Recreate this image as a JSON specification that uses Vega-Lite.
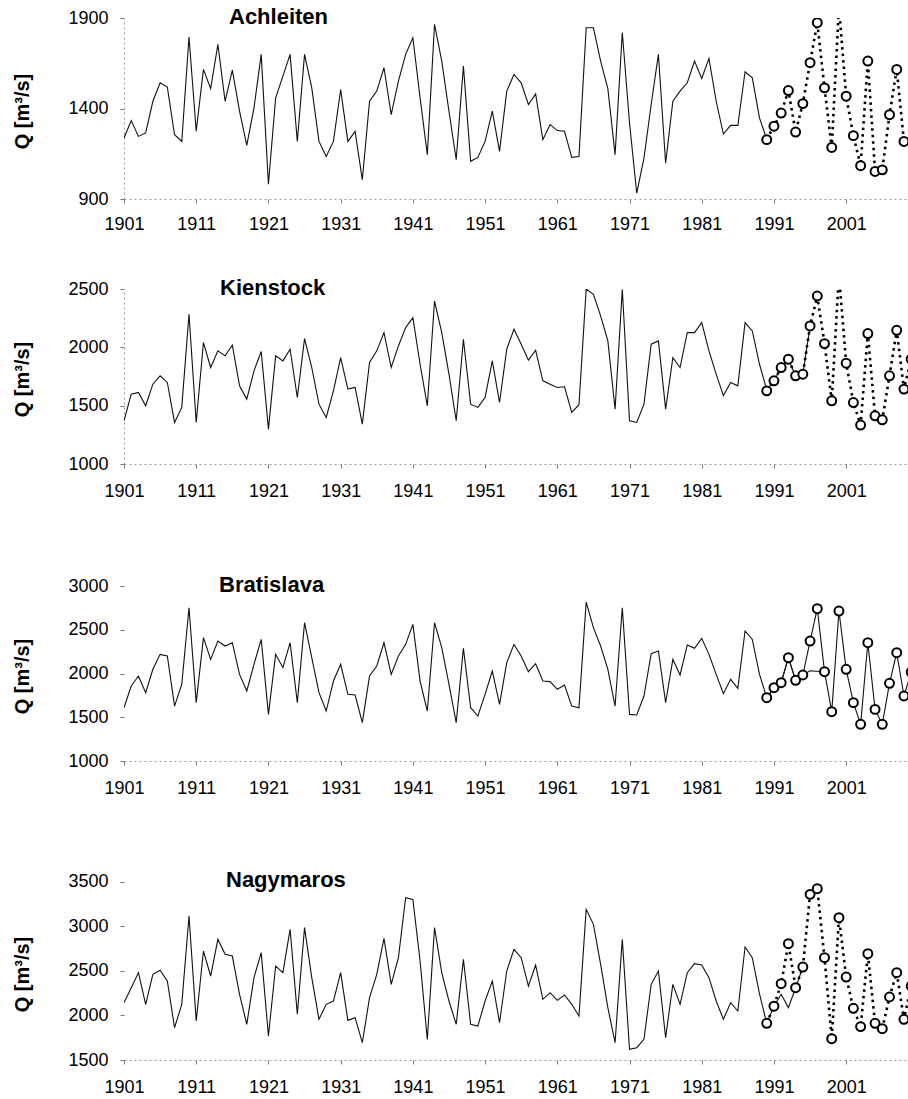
{
"$schema": "https://vega.github.io/schema/vega-lite/v6.json",
"background": "white",
"padding": {"left": 11, "top": 6, "right": 0, "bottom": 0},
"spacing": 90,
"bounds": "flush",
"config": {
  "view": {"stroke": null},
  "font": "Liberation Sans",
  "axis": {"labelFont": "Liberation Sans", "labelFontSize": 18, "labelColor": "#000", "grid": false, "domainColor": "#9a9a9a", "domainDash": [2, 3], "tickColor": "#777", "tickSize": 4, "titleFont": "Liberation Sans", "titleFontSize": 20, "titleFontWeight": "bold", "titleColor": "#000", "labelFlush": false, "format": "d"},
  "title": {"font": "Liberation Sans", "fontSize": 22, "fontWeight": "bold", "color": "#000", "anchor": "start", "frame": "group"}
},
"datasets": {
"obs": [
{"station":"Achleiten","year":1901,"q":1237},{"station":"Achleiten","year":1902,"q":1333},{"station":"Achleiten","year":1903,"q":1246},{"station":"Achleiten","year":1904,"q":1265},{"station":"Achleiten","year":1905,"q":1440},{"station":"Achleiten","year":1906,"q":1542},{"station":"Achleiten","year":1907,"q":1518},{"station":"Achleiten","year":1908,"q":1255},{"station":"Achleiten","year":1909,"q":1218},{"station":"Achleiten","year":1910,"q":1795},
{"station":"Achleiten","year":1911,"q":1274},{"station":"Achleiten","year":1912,"q":1616},{"station":"Achleiten","year":1913,"q":1510},{"station":"Achleiten","year":1914,"q":1754},{"station":"Achleiten","year":1915,"q":1440},{"station":"Achleiten","year":1916,"q":1612},{"station":"Achleiten","year":1917,"q":1385},{"station":"Achleiten","year":1918,"q":1196},{"station":"Achleiten","year":1919,"q":1403},{"station":"Achleiten","year":1920,"q":1699},
{"station":"Achleiten","year":1921,"q":982},{"station":"Achleiten","year":1922,"q":1459},{"station":"Achleiten","year":1923,"q":1579},{"station":"Achleiten","year":1924,"q":1699},{"station":"Achleiten","year":1925,"q":1218},{"station":"Achleiten","year":1926,"q":1699},{"station":"Achleiten","year":1927,"q":1514},{"station":"Achleiten","year":1928,"q":1218},{"station":"Achleiten","year":1929,"q":1135},{"station":"Achleiten","year":1930,"q":1218},
{"station":"Achleiten","year":1931,"q":1505},{"station":"Achleiten","year":1932,"q":1218},{"station":"Achleiten","year":1933,"q":1274},{"station":"Achleiten","year":1934,"q":1006},{"station":"Achleiten","year":1935,"q":1440},{"station":"Achleiten","year":1936,"q":1496},{"station":"Achleiten","year":1937,"q":1625},{"station":"Achleiten","year":1938,"q":1366},{"station":"Achleiten","year":1939,"q":1551},{"station":"Achleiten","year":1940,"q":1699},
{"station":"Achleiten","year":1941,"q":1791},{"station":"Achleiten","year":1942,"q":1459},{"station":"Achleiten","year":1943,"q":1145},{"station":"Achleiten","year":1944,"q":1865},{"station":"Achleiten","year":1945,"q":1662},{"station":"Achleiten","year":1946,"q":1385},{"station":"Achleiten","year":1947,"q":1117},{"station":"Achleiten","year":1948,"q":1634},{"station":"Achleiten","year":1949,"q":1108},{"station":"Achleiten","year":1950,"q":1130},
{"station":"Achleiten","year":1951,"q":1218},{"station":"Achleiten","year":1952,"q":1385},{"station":"Achleiten","year":1953,"q":1163},{"station":"Achleiten","year":1954,"q":1496},{"station":"Achleiten","year":1955,"q":1588},{"station":"Achleiten","year":1956,"q":1542},{"station":"Achleiten","year":1957,"q":1422},{"station":"Achleiten","year":1958,"q":1481},{"station":"Achleiten","year":1959,"q":1228},{"station":"Achleiten","year":1960,"q":1311},
{"station":"Achleiten","year":1961,"q":1278},{"station":"Achleiten","year":1962,"q":1274},{"station":"Achleiten","year":1963,"q":1130},{"station":"Achleiten","year":1964,"q":1135},{"station":"Achleiten","year":1965,"q":1846},{"station":"Achleiten","year":1966,"q":1846},{"station":"Achleiten","year":1967,"q":1662},{"station":"Achleiten","year":1968,"q":1510},{"station":"Achleiten","year":1969,"q":1145},{"station":"Achleiten","year":1970,"q":1820},
{"station":"Achleiten","year":1971,"q":1320},{"station":"Achleiten","year":1972,"q":932},{"station":"Achleiten","year":1973,"q":1126},{"station":"Achleiten","year":1974,"q":1422},{"station":"Achleiten","year":1975,"q":1699},{"station":"Achleiten","year":1976,"q":1098},{"station":"Achleiten","year":1977,"q":1440},{"station":"Achleiten","year":1978,"q":1496},{"station":"Achleiten","year":1979,"q":1542},{"station":"Achleiten","year":1980,"q":1662},
{"station":"Achleiten","year":1981,"q":1566},{"station":"Achleiten","year":1982,"q":1677},{"station":"Achleiten","year":1983,"q":1440},{"station":"Achleiten","year":1984,"q":1259},{"station":"Achleiten","year":1985,"q":1307},{"station":"Achleiten","year":1986,"q":1307},{"station":"Achleiten","year":1987,"q":1603},{"station":"Achleiten","year":1988,"q":1569},{"station":"Achleiten","year":1989,"q":1348},{"station":"Achleiten","year":1990,"q":1230},
{"station":"Kienstock","year":1901,"q":1370},{"station":"Kienstock","year":1902,"q":1599},{"station":"Kienstock","year":1903,"q":1613},{"station":"Kienstock","year":1904,"q":1499},{"station":"Kienstock","year":1905,"q":1684},{"station":"Kienstock","year":1906,"q":1756},{"station":"Kienstock","year":1907,"q":1699},{"station":"Kienstock","year":1908,"q":1356},{"station":"Kienstock","year":1909,"q":1485},{"station":"Kienstock","year":1910,"q":2283},
{"station":"Kienstock","year":1911,"q":1356},{"station":"Kienstock","year":1912,"q":2041},{"station":"Kienstock","year":1913,"q":1827},{"station":"Kienstock","year":1914,"q":1970},{"station":"Kienstock","year":1915,"q":1927},{"station":"Kienstock","year":1916,"q":2018},{"station":"Kienstock","year":1917,"q":1670},{"station":"Kienstock","year":1918,"q":1556},{"station":"Kienstock","year":1919,"q":1798},{"station":"Kienstock","year":1920,"q":1964},
{"station":"Kienstock","year":1921,"q":1299},{"station":"Kienstock","year":1922,"q":1927},{"station":"Kienstock","year":1923,"q":1884},{"station":"Kienstock","year":1924,"q":1984},{"station":"Kienstock","year":1925,"q":1570},{"station":"Kienstock","year":1926,"q":2075},{"station":"Kienstock","year":1927,"q":1827},{"station":"Kienstock","year":1928,"q":1513},{"station":"Kienstock","year":1929,"q":1399},{"station":"Kienstock","year":1930,"q":1627},
{"station":"Kienstock","year":1931,"q":1912},{"station":"Kienstock","year":1932,"q":1642},{"station":"Kienstock","year":1933,"q":1656},{"station":"Kienstock","year":1934,"q":1342},{"station":"Kienstock","year":1935,"q":1870},{"station":"Kienstock","year":1936,"q":1970},{"station":"Kienstock","year":1937,"q":2126},{"station":"Kienstock","year":1938,"q":1827},{"station":"Kienstock","year":1939,"q":2012},{"station":"Kienstock","year":1940,"q":2169},
{"station":"Kienstock","year":1941,"q":2255},{"station":"Kienstock","year":1942,"q":1855},{"station":"Kienstock","year":1943,"q":1499},{"station":"Kienstock","year":1944,"q":2397},{"station":"Kienstock","year":1945,"q":2126},{"station":"Kienstock","year":1946,"q":1770},{"station":"Kienstock","year":1947,"q":1371},{"station":"Kienstock","year":1948,"q":2069},{"station":"Kienstock","year":1949,"q":1513},{"station":"Kienstock","year":1950,"q":1485},
{"station":"Kienstock","year":1951,"q":1570},{"station":"Kienstock","year":1952,"q":1884},{"station":"Kienstock","year":1953,"q":1527},{"station":"Kienstock","year":1954,"q":1984},{"station":"Kienstock","year":1955,"q":2155},{"station":"Kienstock","year":1956,"q":2027},{"station":"Kienstock","year":1957,"q":1890},{"station":"Kienstock","year":1958,"q":1975},{"station":"Kienstock","year":1959,"q":1713},{"station":"Kienstock","year":1960,"q":1684},
{"station":"Kienstock","year":1961,"q":1656},{"station":"Kienstock","year":1962,"q":1662},{"station":"Kienstock","year":1963,"q":1442},{"station":"Kienstock","year":1964,"q":1508},{"station":"Kienstock","year":1965,"q":2500},{"station":"Kienstock","year":1966,"q":2454},{"station":"Kienstock","year":1967,"q":2269},{"station":"Kienstock","year":1968,"q":2055},{"station":"Kienstock","year":1969,"q":1470},{"station":"Kienstock","year":1970,"q":2495},
{"station":"Kienstock","year":1971,"q":1371},{"station":"Kienstock","year":1972,"q":1356},{"station":"Kienstock","year":1973,"q":1513},{"station":"Kienstock","year":1974,"q":2027},{"station":"Kienstock","year":1975,"q":2055},{"station":"Kienstock","year":1976,"q":1470},{"station":"Kienstock","year":1977,"q":1912},{"station":"Kienstock","year":1978,"q":1827},{"station":"Kienstock","year":1979,"q":2126},{"station":"Kienstock","year":1980,"q":2126},
{"station":"Kienstock","year":1981,"q":2212},{"station":"Kienstock","year":1982,"q":1970},{"station":"Kienstock","year":1983,"q":1770},{"station":"Kienstock","year":1984,"q":1585},{"station":"Kienstock","year":1985,"q":1699},{"station":"Kienstock","year":1986,"q":1670},{"station":"Kienstock","year":1987,"q":2212},{"station":"Kienstock","year":1988,"q":2141},{"station":"Kienstock","year":1989,"q":1855},{"station":"Kienstock","year":1990,"q":1635},
{"station":"Kienstock","year":1991,"q":1713},{"station":"Kienstock","year":1992,"q":1827},{"station":"Kienstock","year":1993,"q":1898},{"station":"Kienstock","year":1994,"q":1756},{"station":"Kienstock","year":1995,"q":1770},{"station":"Kienstock","year":1996,"q":2180},
{"station":"Bratislava","year":1901,"q":1609},{"station":"Bratislava","year":1902,"q":1857},{"station":"Bratislava","year":1903,"q":1971},{"station":"Bratislava","year":1904,"q":1781},{"station":"Bratislava","year":1905,"q":2048},{"station":"Bratislava","year":1906,"q":2219},{"station":"Bratislava","year":1907,"q":2200},{"station":"Bratislava","year":1908,"q":1628},{"station":"Bratislava","year":1909,"q":1876},{"station":"Bratislava","year":1910,"q":2752},
{"station":"Bratislava","year":1911,"q":1667},{"station":"Bratislava","year":1912,"q":2410},{"station":"Bratislava","year":1913,"q":2162},{"station":"Bratislava","year":1914,"q":2371},{"station":"Bratislava","year":1915,"q":2314},{"station":"Bratislava","year":1916,"q":2352},{"station":"Bratislava","year":1917,"q":1990},{"station":"Bratislava","year":1918,"q":1800},{"station":"Bratislava","year":1919,"q":2105},{"station":"Bratislava","year":1920,"q":2390},
{"station":"Bratislava","year":1921,"q":1533},{"station":"Bratislava","year":1922,"q":2219},{"station":"Bratislava","year":1923,"q":2067},{"station":"Bratislava","year":1924,"q":2352},{"station":"Bratislava","year":1925,"q":1667},{"station":"Bratislava","year":1926,"q":2581},{"station":"Bratislava","year":1927,"q":2181},{"station":"Bratislava","year":1928,"q":1781},{"station":"Bratislava","year":1929,"q":1571},{"station":"Bratislava","year":1930,"q":1914},
{"station":"Bratislava","year":1931,"q":2105},{"station":"Bratislava","year":1932,"q":1762},{"station":"Bratislava","year":1933,"q":1754},{"station":"Bratislava","year":1934,"q":1438},{"station":"Bratislava","year":1935,"q":1971},{"station":"Bratislava","year":1936,"q":2086},{"station":"Bratislava","year":1937,"q":2352},{"station":"Bratislava","year":1938,"q":1990},{"station":"Bratislava","year":1939,"q":2200},{"station":"Bratislava","year":1940,"q":2333},
{"station":"Bratislava","year":1941,"q":2562},{"station":"Bratislava","year":1942,"q":1914},{"station":"Bratislava","year":1943,"q":1571},{"station":"Bratislava","year":1944,"q":2581},{"station":"Bratislava","year":1945,"q":2295},{"station":"Bratislava","year":1946,"q":1876},{"station":"Bratislava","year":1947,"q":1438},{"station":"Bratislava","year":1948,"q":2288},{"station":"Bratislava","year":1949,"q":1609},{"station":"Bratislava","year":1950,"q":1514},
{"station":"Bratislava","year":1951,"q":1762},{"station":"Bratislava","year":1952,"q":2029},{"station":"Bratislava","year":1953,"q":1648},{"station":"Bratislava","year":1954,"q":2124},{"station":"Bratislava","year":1955,"q":2333},{"station":"Bratislava","year":1956,"q":2200},{"station":"Bratislava","year":1957,"q":2021},{"station":"Bratislava","year":1958,"q":2112},{"station":"Bratislava","year":1959,"q":1914},{"station":"Bratislava","year":1960,"q":1907},
{"station":"Bratislava","year":1961,"q":1819},{"station":"Bratislava","year":1962,"q":1868},{"station":"Bratislava","year":1963,"q":1628},{"station":"Bratislava","year":1964,"q":1609},{"station":"Bratislava","year":1965,"q":2817},{"station":"Bratislava","year":1966,"q":2524},{"station":"Bratislava","year":1967,"q":2314},{"station":"Bratislava","year":1968,"q":2048},{"station":"Bratislava","year":1969,"q":1628},{"station":"Bratislava","year":1970,"q":2752},
{"station":"Bratislava","year":1971,"q":1533},{"station":"Bratislava","year":1972,"q":1526},{"station":"Bratislava","year":1973,"q":1743},{"station":"Bratislava","year":1974,"q":2227},{"station":"Bratislava","year":1975,"q":2257},{"station":"Bratislava","year":1976,"q":1667},{"station":"Bratislava","year":1977,"q":2162},{"station":"Bratislava","year":1978,"q":1983},{"station":"Bratislava","year":1979,"q":2326},{"station":"Bratislava","year":1980,"q":2288},
{"station":"Bratislava","year":1981,"q":2402},{"station":"Bratislava","year":1982,"q":2219},{"station":"Bratislava","year":1983,"q":1990},{"station":"Bratislava","year":1984,"q":1769},{"station":"Bratislava","year":1985,"q":1933},{"station":"Bratislava","year":1986,"q":1830},{"station":"Bratislava","year":1987,"q":2486},{"station":"Bratislava","year":1988,"q":2390},{"station":"Bratislava","year":1989,"q":1990},{"station":"Bratislava","year":1990,"q":1724},
{"station":"Bratislava","year":1991,"q":1838},{"station":"Bratislava","year":1992,"q":1895},{"station":"Bratislava","year":1993,"q":2181},{"station":"Bratislava","year":1994,"q":1922},{"station":"Bratislava","year":1995,"q":1983},{"station":"Bratislava","year":1996,"q":2030},{"station":"Bratislava","year":1997,"q":2025},{"station":"Bratislava","year":1998,"q":2021},
{"station":"Nagymaros","year":1901,"q":2142},{"station":"Nagymaros","year":1902,"q":2310},{"station":"Nagymaros","year":1903,"q":2479},{"station":"Nagymaros","year":1904,"q":2124},{"station":"Nagymaros","year":1905,"q":2460},{"station":"Nagymaros","year":1906,"q":2505},{"station":"Nagymaros","year":1907,"q":2385},{"station":"Nagymaros","year":1908,"q":1862},{"station":"Nagymaros","year":1909,"q":2124},{"station":"Nagymaros","year":1910,"q":3113},
{"station":"Nagymaros","year":1911,"q":1937},{"station":"Nagymaros","year":1912,"q":2721},{"station":"Nagymaros","year":1913,"q":2441},{"station":"Nagymaros","year":1914,"q":2852},{"station":"Nagymaros","year":1915,"q":2684},{"station":"Nagymaros","year":1916,"q":2665},{"station":"Nagymaros","year":1917,"q":2236},{"station":"Nagymaros","year":1918,"q":1900},{"station":"Nagymaros","year":1919,"q":2423},{"station":"Nagymaros","year":1920,"q":2703},
{"station":"Nagymaros","year":1921,"q":1769},{"station":"Nagymaros","year":1922,"q":2553},{"station":"Nagymaros","year":1923,"q":2479},{"station":"Nagymaros","year":1924,"q":2964},{"station":"Nagymaros","year":1925,"q":2012},{"station":"Nagymaros","year":1926,"q":2983},{"station":"Nagymaros","year":1927,"q":2423},{"station":"Nagymaros","year":1928,"q":1956},{"station":"Nagymaros","year":1929,"q":2124},{"station":"Nagymaros","year":1930,"q":2161},
{"station":"Nagymaros","year":1931,"q":2479},{"station":"Nagymaros","year":1932,"q":1944},{"station":"Nagymaros","year":1933,"q":1974},{"station":"Nagymaros","year":1934,"q":1694},{"station":"Nagymaros","year":1935,"q":2198},{"station":"Nagymaros","year":1936,"q":2460},{"station":"Nagymaros","year":1937,"q":2863},{"station":"Nagymaros","year":1938,"q":2348},{"station":"Nagymaros","year":1939,"q":2647},{"station":"Nagymaros","year":1940,"q":3319},
{"station":"Nagymaros","year":1941,"q":3300},{"station":"Nagymaros","year":1942,"q":2609},{"station":"Nagymaros","year":1943,"q":1731},{"station":"Nagymaros","year":1944,"q":2983},{"station":"Nagymaros","year":1945,"q":2479},{"station":"Nagymaros","year":1946,"q":2161},{"station":"Nagymaros","year":1947,"q":1900},{"station":"Nagymaros","year":1948,"q":2628},{"station":"Nagymaros","year":1949,"q":1900},{"station":"Nagymaros","year":1950,"q":1881},
{"station":"Nagymaros","year":1951,"q":2161},{"station":"Nagymaros","year":1952,"q":2385},{"station":"Nagymaros","year":1953,"q":1919},{"station":"Nagymaros","year":1954,"q":2497},{"station":"Nagymaros","year":1955,"q":2740},{"station":"Nagymaros","year":1956,"q":2647},{"station":"Nagymaros","year":1957,"q":2329},{"station":"Nagymaros","year":1958,"q":2564},{"station":"Nagymaros","year":1959,"q":2180},{"station":"Nagymaros","year":1960,"q":2254},
{"station":"Nagymaros","year":1961,"q":2168},{"station":"Nagymaros","year":1962,"q":2228},{"station":"Nagymaros","year":1963,"q":2124},{"station":"Nagymaros","year":1964,"q":1993},{"station":"Nagymaros","year":1965,"q":3188},{"station":"Nagymaros","year":1966,"q":3020},{"station":"Nagymaros","year":1967,"q":2572},{"station":"Nagymaros","year":1968,"q":2086},{"station":"Nagymaros","year":1969,"q":1694},{"station":"Nagymaros","year":1970,"q":2852},
{"station":"Nagymaros","year":1971,"q":1619},{"station":"Nagymaros","year":1972,"q":1638},{"station":"Nagymaros","year":1973,"q":1731},{"station":"Nagymaros","year":1974,"q":2348},{"station":"Nagymaros","year":1975,"q":2497},{"station":"Nagymaros","year":1976,"q":1750},{"station":"Nagymaros","year":1977,"q":2348},{"station":"Nagymaros","year":1978,"q":2124},{"station":"Nagymaros","year":1979,"q":2479},{"station":"Nagymaros","year":1980,"q":2579},
{"station":"Nagymaros","year":1981,"q":2564},{"station":"Nagymaros","year":1982,"q":2423},{"station":"Nagymaros","year":1983,"q":2161},{"station":"Nagymaros","year":1984,"q":1956},{"station":"Nagymaros","year":1985,"q":2142},{"station":"Nagymaros","year":1986,"q":2049},{"station":"Nagymaros","year":1987,"q":2767},{"station":"Nagymaros","year":1988,"q":2647},{"station":"Nagymaros","year":1989,"q":2240},{"station":"Nagymaros","year":1990,"q":1911},
{"station":"Nagymaros","year":1991,"q":2103},{"station":"Nagymaros","year":1992,"q":2236},{"station":"Nagymaros","year":1993,"q":2087},{"station":"Nagymaros","year":1994,"q":2310},{"station":"Nagymaros","year":1995,"q":2542}
],
"sim": [
{"station":"Achleiten","year":1990,"q":1228},{"station":"Achleiten","year":1991,"q":1302},{"station":"Achleiten","year":1992,"q":1375},{"station":"Achleiten","year":1993,"q":1499},{"station":"Achleiten","year":1994,"q":1270},{"station":"Achleiten","year":1995,"q":1427},{"station":"Achleiten","year":1996,"q":1653},{"station":"Achleiten","year":1997,"q":1874},{"station":"Achleiten","year":1998,"q":1514},{"station":"Achleiten","year":1999,"q":1185},
{"station":"Achleiten","year":2000,"q":1960},{"station":"Achleiten","year":2001,"q":1468},{"station":"Achleiten","year":2002,"q":1250},{"station":"Achleiten","year":2003,"q":1084},{"station":"Achleiten","year":2004,"q":1662},{"station":"Achleiten","year":2005,"q":1052},{"station":"Achleiten","year":2006,"q":1061},{"station":"Achleiten","year":2007,"q":1366},{"station":"Achleiten","year":2008,"q":1616},{"station":"Achleiten","year":2009,"q":1218},
{"station":"Kienstock","year":1990,"q":1627},{"station":"Kienstock","year":1991,"q":1713},{"station":"Kienstock","year":1992,"q":1827},{"station":"Kienstock","year":1993,"q":1898},{"station":"Kienstock","year":1994,"q":1756},{"station":"Kienstock","year":1995,"q":1770},{"station":"Kienstock","year":1996,"q":2183},{"station":"Kienstock","year":1997,"q":2440},{"station":"Kienstock","year":1998,"q":2032},{"station":"Kienstock","year":1999,"q":1542},
{"station":"Kienstock","year":2000,"q":2620},{"station":"Kienstock","year":2001,"q":1864},{"station":"Kienstock","year":2002,"q":1527},{"station":"Kienstock","year":2003,"q":1334},{"station":"Kienstock","year":2004,"q":2118},{"station":"Kienstock","year":2005,"q":1413},{"station":"Kienstock","year":2006,"q":1379},{"station":"Kienstock","year":2007,"q":1756},{"station":"Kienstock","year":2008,"q":2146},{"station":"Kienstock","year":2009,"q":1642},{"station":"Kienstock","year":2010,"q":1898},
{"station":"Bratislava","year":1990,"q":1724},{"station":"Bratislava","year":1991,"q":1838},{"station":"Bratislava","year":1992,"q":1895},{"station":"Bratislava","year":1993,"q":2181},{"station":"Bratislava","year":1994,"q":1922},{"station":"Bratislava","year":1995,"q":1983},{"station":"Bratislava","year":1996,"q":2371},{"station":"Bratislava","year":1997,"q":2741},{"station":"Bratislava","year":1998,"q":2021},{"station":"Bratislava","year":1999,"q":1564},
{"station":"Bratislava","year":2000,"q":2714},{"station":"Bratislava","year":2001,"q":2048},{"station":"Bratislava","year":2002,"q":1667},{"station":"Bratislava","year":2003,"q":1419},{"station":"Bratislava","year":2004,"q":2352},{"station":"Bratislava","year":2005,"q":1590},{"station":"Bratislava","year":2006,"q":1419},{"station":"Bratislava","year":2007,"q":1888},{"station":"Bratislava","year":2008,"q":2238},{"station":"Bratislava","year":2009,"q":1743},{"station":"Bratislava","year":2010,"q":2017},
{"station":"Nagymaros","year":1990,"q":1911},{"station":"Nagymaros","year":1991,"q":2103},{"station":"Nagymaros","year":1992,"q":2355},{"station":"Nagymaros","year":1993,"q":2803},{"station":"Nagymaros","year":1994,"q":2310},{"station":"Nagymaros","year":1995,"q":2542},{"station":"Nagymaros","year":1996,"q":3356},{"station":"Nagymaros","year":1997,"q":3420},{"station":"Nagymaros","year":1998,"q":2647},{"station":"Nagymaros","year":1999,"q":1739},
{"station":"Nagymaros","year":2000,"q":3095},{"station":"Nagymaros","year":2001,"q":2430},{"station":"Nagymaros","year":2002,"q":2079},{"station":"Nagymaros","year":2003,"q":1874},{"station":"Nagymaros","year":2004,"q":2691},{"station":"Nagymaros","year":2005,"q":1911},{"station":"Nagymaros","year":2006,"q":1851},{"station":"Nagymaros","year":2007,"q":2206},{"station":"Nagymaros","year":2008,"q":2479},{"station":"Nagymaros","year":2009,"q":1956},{"station":"Nagymaros","year":2010,"q":2329}
]
},
"vconcat": [
{
 "width": 785, "height": 181,
 "title": {"text": "Achleiten", "dx": 105, "offset": -20},
 "encoding": {
  "x": {"field": "year", "type": "quantitative", "scale": {"domain": [1901, 2009.7], "nice": false, "zero": false}, "axis": {"values": [1901,1911,1921,1931,1941,1951,1961,1971,1981,1991,2001], "format": "d", "title": null, "labelPadding": 12}},
  "y": {"field": "q", "type": "quantitative", "scale": {"domain": [900, 1900], "nice": false, "zero": false}, "axis": {"values": [900, 1400, 1900], "format": "d", "title": "Q [m³/s]", "titleX": -92, "titleY": 93, "labelPadding": 12}}
 },
 "layer": [
  {"data": {"name": "obs"}, "transform": [{"filter": "datum.station === 'Achleiten'"}], "mark": {"type": "line", "clip": true, "color": "#111", "strokeWidth": 1.1}},
  {"data": {"name": "sim"}, "transform": [{"filter": "datum.station === 'Achleiten'"}], "mark": {"type": "line", "clip": true, "color": "#000", "strokeWidth": 2.6, "strokeDash": [2.5, 4]}},
  {"data": {"name": "sim"}, "transform": [{"filter": "datum.station === 'Achleiten'"}], "mark": {"type": "point", "clip": true, "shape": "circle", "filled": true, "fill": "white", "stroke": "#000", "strokeWidth": 2, "size": 80, "opacity": 1}}
 ]
},
{
 "width": 785, "height": 175,
 "title": {"text": "Kienstock", "dx": 96, "offset": -20},
 "encoding": {
  "x": {"field": "year", "type": "quantitative", "scale": {"domain": [1901, 2009.7], "nice": false, "zero": false}, "axis": {"values": [1901,1911,1921,1931,1941,1951,1961,1971,1981,1991,2001], "format": "d", "title": null, "labelPadding": 14}},
  "y": {"field": "q", "type": "quantitative", "scale": {"domain": [1000, 2500], "nice": false, "zero": false}, "axis": {"values": [1000, 1500, 2000, 2500], "format": "d", "title": "Q [m³/s]", "titleX": -92, "titleY": 90, "labelPadding": 12}}
 },
 "layer": [
  {"data": {"name": "obs"}, "transform": [{"filter": "datum.station === 'Kienstock'"}], "mark": {"type": "line", "clip": true, "color": "#111", "strokeWidth": 1.1}},
  {"data": {"name": "sim"}, "transform": [{"filter": "datum.station === 'Kienstock'"}], "mark": {"type": "line", "clip": true, "color": "#000", "strokeWidth": 2.6, "strokeDash": [2.5, 4]}},
  {"data": {"name": "sim"}, "transform": [{"filter": "datum.station === 'Kienstock'"}], "mark": {"type": "point", "clip": true, "shape": "circle", "filled": true, "fill": "white", "stroke": "#000", "strokeWidth": 2, "size": 80, "opacity": 1}}
 ]
},
{
 "width": 785, "height": 207,
 "title": {"text": "Bratislava", "dx": 95, "offset": -43},
 "encoding": {
  "x": {"field": "year", "type": "quantitative", "scale": {"domain": [1901, 2009.7], "nice": false, "zero": false}, "axis": {"values": [1901,1911,1921,1931,1941,1951,1961,1971,1981,1991,2001], "format": "d", "title": null, "labelPadding": 14}},
  "y": {"field": "q", "type": "quantitative", "scale": {"domain": [1000, 3366], "nice": false, "zero": false}, "axis": {"values": [1000, 1500, 2000, 2500, 3000], "format": "d", "title": "Q [m³/s]", "titleX": -92, "titleY": 122, "labelPadding": 12, "domain": false}}
 },
 "layer": [
  {"data": {"name": "obs"}, "transform": [{"filter": "datum.station === 'Bratislava'"}], "mark": {"type": "line", "clip": true, "color": "#111", "strokeWidth": 1.1}},
  {"data": {"name": "sim"}, "transform": [{"filter": "datum.station === 'Bratislava'"}], "mark": {"type": "line", "clip": true, "color": "#111", "strokeWidth": 1.1}},
  {"data": {"name": "sim"}, "transform": [{"filter": "datum.station === 'Bratislava'"}], "mark": {"type": "point", "clip": true, "shape": "circle", "filled": true, "fill": "white", "stroke": "#000", "strokeWidth": 2, "size": 80, "opacity": 1}}
 ]
},
{
 "width": 785, "height": 209,
 "title": {"text": "Nagymaros", "dx": 102, "offset": -41},
 "encoding": {
  "x": {"field": "year", "type": "quantitative", "scale": {"domain": [1901, 2009.7], "nice": false, "zero": false}, "axis": {"values": [1901,1911,1921,1931,1941,1951,1961,1971,1981,1991,2001], "format": "d", "title": null, "labelPadding": 14}},
  "y": {"field": "q", "type": "quantitative", "scale": {"domain": [1500, 3842], "nice": false, "zero": false}, "axis": {"values": [1500, 2000, 2500, 3000, 3500], "format": "d", "title": "Q [m³/s]", "titleX": -92, "titleY": 123, "labelPadding": 12, "domain": false}}
 },
 "layer": [
  {"data": {"name": "obs"}, "transform": [{"filter": "datum.station === 'Nagymaros'"}], "mark": {"type": "line", "clip": true, "color": "#111", "strokeWidth": 1.1}},
  {"data": {"name": "sim"}, "transform": [{"filter": "datum.station === 'Nagymaros'"}], "mark": {"type": "line", "clip": true, "color": "#000", "strokeWidth": 2.6, "strokeDash": [2.5, 4]}},
  {"data": {"name": "sim"}, "transform": [{"filter": "datum.station === 'Nagymaros'"}], "mark": {"type": "point", "clip": true, "shape": "circle", "filled": true, "fill": "white", "stroke": "#000", "strokeWidth": 2, "size": 80, "opacity": 1}}
 ]
}
]
}
